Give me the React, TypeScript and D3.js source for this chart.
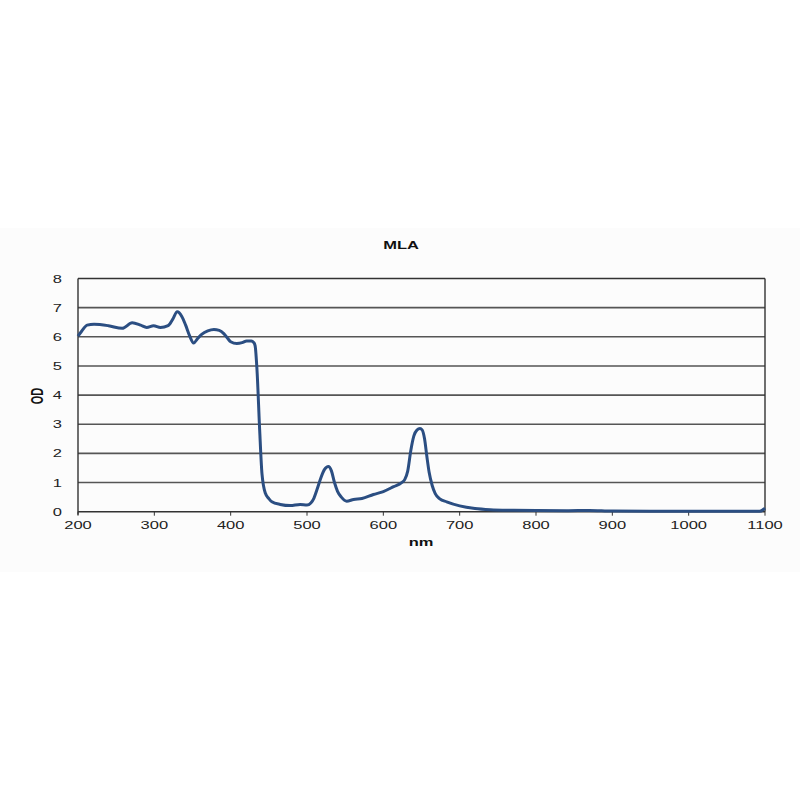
import React from "react";
import * as d3 from "d3";

const title = "MLA";
const xLabel = "nm";
const yLabel = "OD";
const xTicks = [200, 300, 400, 500, 600, 700, 800, 900, 1000, 1100];
const yTicks = [0, 1, 2, 3, 4, 5, 6, 7, 8];

const wavelength = [
  200, 205, 212, 221, 240, 258, 271, 282, 290, 299, 308, 318, 324, 330, 336, 341, 346, 351.5, 357, 362, 370, 378, 385, 391, 396, 400, 408,
  415, 421, 427, 430, 432, 434.5, 438, 441, 445.5, 450, 454, 465, 478, 491, 500, 505, 509, 513, 518, 523, 528, 532, 536, 540, 545, 552,
  561, 572, 587, 600, 613.5, 624, 628, 632, 636, 640, 644, 648, 651, 654, 657, 660, 664, 668, 674, 683, 700, 720, 740, 770,
  800, 840, 870, 900, 950, 1000, 1050, 1093, 1100,
];
const od = [
  6.02, 6.2, 6.4, 6.43, 6.38, 6.29, 6.48, 6.4, 6.32, 6.38, 6.32, 6.38, 6.6, 6.86, 6.7, 6.4, 6.05, 5.79, 5.95, 6.08, 6.2, 6.25, 6.22, 6.11, 5.95, 5.83, 5.77,
  5.8, 5.86, 5.86, 5.81, 5.7, 4.86, 2.8, 1.31, 0.63, 0.45, 0.34, 0.25, 0.21, 0.25, 0.23, 0.3, 0.46, 0.75, 1.15, 1.45, 1.55, 1.4, 1.0, 0.7, 0.5, 0.36,
  0.42, 0.45, 0.59, 0.69, 0.86, 1.0, 1.1, 1.4, 2.1, 2.6, 2.8, 2.85, 2.8, 2.5, 1.9, 1.35, 0.9, 0.62, 0.44, 0.34, 0.2, 0.11, 0.07, 0.05,
  0.04, 0.035, 0.045, 0.02, 0.015, 0.015, 0.015, 0.015, 0.12,
];

const data = wavelength.map((w, i) => ({ x: w, y: od[i] }));

const M = { left: 78, right: 765, top: 278.5, bottom: 511.7 };
const FONT = "'Liberation Sans', Arial, sans-serif";
const SX = 1.5;

export default function App() {
  const x = d3.scaleLinear().domain([200, 1100]).range([M.left, M.right]);
  const y = d3.scaleLinear().domain([0, 8]).range([M.bottom, M.top]);
  const line = d3
    .line<{ x: number; y: number }>()
    .x((d) => x(d.x))
    .y((d) => y(d.y))
    .curve(d3.curveMonotoneX);

  return (
    <svg
      width={800}
      height={800}
      style={{ position: "absolute", left: 0, top: 0, background: "#ffffff" }}
    >
      <rect x={0} y={228} width={800} height={344} fill="#fcfcfc" />
      {yTicks.map((t) => (
        <line
          key={"g" + t}
          x1={M.left}
          x2={M.right}
          y1={y(t)}
          y2={y(t)}
          stroke={t === 0 || t === 8 ? "#333" : "#555"}
          strokeWidth={t === 0 || t === 8 ? 1.4 : 1.6}
        />
      ))}
      <line x1={M.left} x2={M.left} y1={M.top} y2={M.bottom + 3} stroke="#333" strokeWidth={1.4} />
      <line x1={M.right} x2={M.right} y1={M.top} y2={M.bottom} stroke="#333" strokeWidth={1.4} />
      {xTicks.map((t) => (
        <line key={"xt" + t} x1={x(t)} x2={x(t)} y1={M.bottom} y2={M.bottom + 4} stroke="#333" strokeWidth={1} />
      ))}
      {yTicks.map((t) => (
        <text
          key={"yl" + t}
          transform={`translate(62,${y(t) + 4}) scale(${SX},1)`}
          textAnchor="end"
          fontFamily={FONT}
          fontSize={11}
          fill="#222"
        >
          {t}
        </text>
      ))}
      {xTicks.map((t) => (
        <text
          key={"xl" + t}
          transform={`translate(${x(t)},529) scale(${SX},1)`}
          textAnchor="middle"
          fontFamily={FONT}
          fontSize={11}
          fill="#222"
        >
          {t}
        </text>
      ))}
      <text
        transform={`translate(401,249) scale(${SX},1)`}
        textAnchor="middle"
        fontFamily={FONT}
        fontWeight="bold"
        fontSize={11}
        fill="#111"
      >
        {title}
      </text>
      <text
        transform={`translate(421,545.5) scale(${SX},1)`}
        textAnchor="middle"
        fontFamily={FONT}
        fontWeight="bold"
        fontSize={11}
        fill="#111"
      >
        {xLabel}
      </text>
      <text
        transform={`translate(42.5,396) scale(${SX},1) rotate(-90)`}
        textAnchor="middle"
        fontFamily={FONT}
        fontWeight="bold"
        fontSize={11}
        fill="#111"
      >
        {yLabel}
      </text>
      <path d={line(data) || ""} fill="none" stroke="#2b4e82" strokeWidth={3} strokeLinejoin="round" />
    </svg>
  );
}
